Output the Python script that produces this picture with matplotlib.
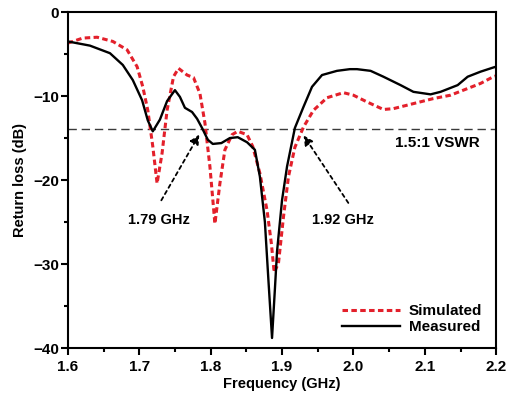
import matplotlib.pyplot as plt
from matplotlib.ticker import MultipleLocator

plt.rcParams.update(
    {
        "font.family": "Liberation Sans",
        "font.weight": "bold",
        "axes.labelweight": "bold",
    }
)

# measured curve (GHz, dB)
meas_f = [1.600, 1.631, 1.659, 1.677, 1.691, 1.704, 1.712, 1.719, 1.729, 1.739,
          1.750, 1.757, 1.764, 1.774, 1.781, 1.788, 1.796, 1.803, 1.815, 1.827,
          1.838, 1.851, 1.862, 1.869, 1.876, 1.881, 1.886, 1.890, 1.893, 1.900,
          1.907, 1.918, 1.930, 1.942, 1.956, 1.977, 1.995, 2.005, 2.024, 2.042,
          2.066, 2.084, 2.108, 2.122, 2.146, 2.160, 2.178, 2.196, 2.200]
meas_db = [-3.5, -4.0, -4.9, -6.3, -8.1, -10.5, -12.9, -14.2, -12.8, -10.6,
           -9.3, -10.1, -11.4, -11.9, -12.7, -13.8, -15.2, -15.7, -15.6, -15.0,
           -14.9, -15.5, -16.4, -19.6, -25.0, -32.0, -38.8, -33.0, -28.5, -22.4,
           -18.4, -13.8, -11.3, -8.9, -7.5, -7.0, -6.8, -6.8, -7.0, -7.7,
           -8.7, -9.5, -9.8, -9.5, -8.7, -7.7, -7.1, -6.6, -6.5]

# simulated curve (GHz, dB)
sim_f = [1.600, 1.621, 1.641, 1.663, 1.683, 1.697, 1.705, 1.712, 1.719, 1.725,
         1.732, 1.739, 1.748, 1.755, 1.767, 1.776, 1.785, 1.792, 1.799, 1.806,
         1.813, 1.820, 1.830, 1.838, 1.851, 1.859, 1.869, 1.879, 1.885, 1.889,
         1.895, 1.902, 1.909, 1.918, 1.930, 1.944, 1.963, 1.986, 2.000, 2.019,
         2.042, 2.056, 2.084, 2.112, 2.136, 2.160, 2.178, 2.196, 2.200]
sim_db = [-3.7, -3.1, -3.0, -3.5, -4.5, -6.5, -8.9, -11.7, -16.0, -20.4,
          -16.8, -11.7, -7.7, -6.7, -7.5, -7.8, -9.7, -13.2, -18.4, -25.2,
          -20.4, -16.4, -14.6, -14.2, -14.6, -16.0, -19.2, -23.6, -27.5, -31.0,
          -29.9, -24.4, -19.6, -16.1, -13.7, -11.7, -10.2, -9.6, -9.9, -10.7,
          -11.6, -11.5, -10.9, -10.3, -9.9, -9.1, -8.5, -7.7, -7.6]

vswr_db = -13.98

fig = plt.figure(figsize=(5.10, 4.01), dpi=100)
ax = fig.add_axes([0.133, 0.132, 0.840, 0.838])

ax.axhline(vswr_db, color="#3a3a3a", lw=1.0, ls=(0, (6, 3.5)))
ax.plot(sim_f, sim_db, color="#e3202b", lw=2.2, ls=(0, (1.8, 1.1)),
        label="Simulated")
ax.plot(meas_f, meas_db, color="black", lw=1.7, label="Measured")

ax.set_xlim(1.6, 2.2)
ax.set_ylim(-40, 0)
ax.xaxis.set_major_locator(MultipleLocator(0.1))
ax.xaxis.set_minor_locator(MultipleLocator(0.05))
ax.yaxis.set_major_locator(MultipleLocator(10))
ax.yaxis.set_minor_locator(MultipleLocator(5))
ax.tick_params(which="both", direction="out", width=1.5, labelsize=11)
ax.tick_params(which="major", length=5)
ax.tick_params(which="minor", length=3)
ax.tick_params(axis="y", pad=1.5)
for s in ax.spines.values():
    s.set_linewidth(1.5)

ax.set_xlabel("Frequency (GHz)", fontsize=10.5, labelpad=2)
ax.set_ylabel("Return loss (dB)", fontsize=10.5, labelpad=4)

arrow = dict(arrowstyle="-|>", color="black", lw=1.3, ls=(0, (2, 2)),
             mutation_scale=14)
ax.annotate("", xy=(1.786, -14.3), xytext=(1.729, -22.7), arrowprops=arrow)
ax.annotate("", xy=(1.928, -14.4), xytext=(1.995, -23.0), arrowprops=arrow)
ax.text(1.728, -24.8, "1.79 GHz", ha="center", va="center", fontsize=10.5)
ax.text(1.986, -24.8, "1.92 GHz", ha="center", va="center", fontsize=10.5)
ax.text(2.117, -15.6, "1.5:1 VSWR", ha="center", va="center", fontsize=11)

ax.legend(loc="lower right", frameon=False, fontsize=11, handlelength=3.8,
          borderaxespad=0.5, labelspacing=0.15, handletextpad=0.6)

fig.savefig("out.png", dpi=100)
